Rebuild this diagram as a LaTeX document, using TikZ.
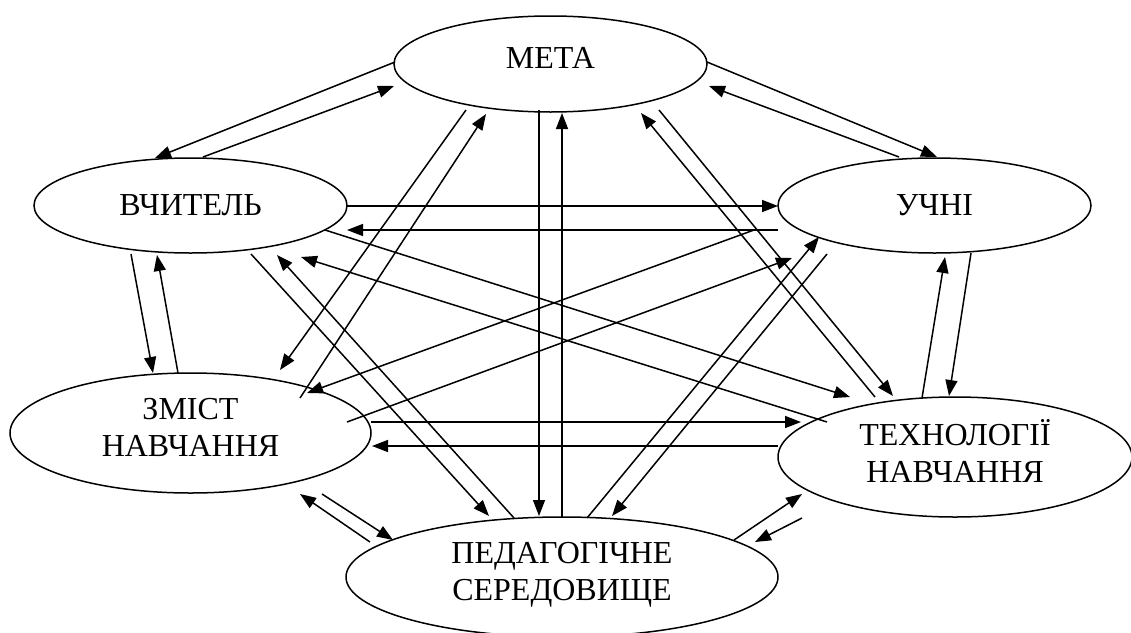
\documentclass[tikz,border=0pt]{standalone}
\usepackage{fontspec}
\setmainfont{Liberation Serif}
\usetikzlibrary{shapes.geometric,arrows.meta,calc}
\begin{document}
\begin{tikzpicture}[x=1pt,y=-1pt,
  oval/.style={draw,ellipse,line width=1.5pt,inner sep=0pt,align=center,
    font=\fontsize{32}{37}\selectfont},
  conn/.style={line width=1.5pt,-{Triangle[length=16pt,width=12pt]}}]
\useasboundingbox (0,0) rectangle (1131,632);
\node[oval,minimum width=313pt,minimum height=96pt,text height=21pt,text depth=13pt] (meta) at (550.5,64) {МЕТА};
\node[oval,minimum width=313pt,minimum height=95pt] (vch) at (190.5,205.5) {ВЧИТЕЛЬ};
\node[oval,minimum width=313pt,minimum height=95pt] (uchni) at (934.5,205.5) {УЧНІ};
\node[oval,minimum width=361pt,minimum height=120pt,text depth=12pt] (zmist) at (190.5,433) {ЗМІСТ\\НАВЧАННЯ};
\node[oval,minimum width=354pt,minimum height=120pt,text depth=12pt] (tech) at (955,457) {ТЕХНОЛОГІЇ\\НАВЧАННЯ};
\node[oval,minimum width=432pt,minimum height=120pt,text depth=12pt] (ped) at (562,577) {ПЕДАГОГІЧНЕ\\СЕРЕДОВИЩЕ};
% МЕТА - ВЧИТЕЛЬ
\draw[conn] ($(meta)+(-155.5,-2)$) -- ($(vch)+(-35.5,-47.5)$);
\draw[conn] ($(vch)+(12.5,-48.5)$) -- ($(meta)+(-156.5,22)$);
% МЕТА - УЧНІ
\draw[conn] ($(meta)+(156.5,-2)$) -- ($(uchni)+(2.5,-48.5)$);
\draw[conn] ($(uchni)+(-35.5,-48.5)$) -- ($(meta)+(158.5,22)$);
% МЕТА - ЗМІСТ
\draw[conn] ($(meta)+(-84.5,46)$) -- ($(zmist)+(89.5,-63)$);
\draw[conn] ($(zmist)+(109.5,-35)$) -- ($(meta)+(-64.5,50)$);
% МЕТА - ПЕД
\draw[conn] ($(meta)+(-11.5,46)$) -- ($(ped)+(-23,-61)$);
\draw[conn] ($(ped)+(0,-60)$) -- ($(meta)+(11.5,49)$);
% МЕТА - ТЕХН
\draw[conn] ($(meta)+(108.5,46)$) -- ($(tech)+(-62,-61)$);
\draw[conn] ($(tech)+(-80,-60)$) -- ($(meta)+(90.5,49)$);
% ВЧИТЕЛЬ - УЧНІ
\draw[conn] ($(vch)+(156.5,0.5)$) -- ($(uchni)+(-156.5,0.5)$);
\draw[conn] ($(uchni)+(-156.5,24.5)$) -- ($(vch)+(156.5,24.5)$);
% ВЧИТЕЛЬ - ЗМІСТ
\draw[conn] ($(vch)+(-59.5,48.5)$) -- ($(zmist)+(-37.5,-60)$);
\draw[conn] ($(zmist)+(-12.5,-60)$) -- ($(vch)+(-33.5,49.5)$);
% ВЧИТЕЛЬ - ТЕХН
\draw[conn] ($(vch)+(134.5,24.5)$) -- ($(tech)+(-105,-60)$);
\draw[conn] ($(tech)+(-128,-35)$) -- ($(vch)+(110.5,51.5)$);
% ВЧИТЕЛЬ - ПЕД
\draw[conn] ($(vch)+(60.5,48.5)$) -- ($(ped)+(-73,-61)$);
\draw[conn] ($(ped)+(-48,-59)$) -- ($(vch)+(86.5,49.5)$);
% УЧНІ - ЗМІСТ
\draw[conn] ($(uchni)+(-180.5,24.5)$) -- ($(zmist)+(116.5,-40)$);
\draw[conn] ($(zmist)+(156.5,-11)$) -- ($(uchni)+(-142.5,52.5)$);
% УЧНІ - ТЕХН
\draw[conn] ($(uchni)+(36.5,47.5)$) -- ($(tech)+(-6,-61)$);
\draw[conn] ($(tech)+(-33,-59)$) -- ($(uchni)+(10.5,51.5)$);
% УЧНІ - ПЕД
\draw[conn] ($(uchni)+(-107.5,48.5)$) -- ($(ped)+(50,-61)$);
\draw[conn] ($(ped)+(25,-59)$) -- ($(uchni)+(-115.5,31.5)$);
% ЗМІСТ - ТЕХН
\draw[conn] ($(zmist)+(180.5,-11)$) -- ($(tech)+(-154,-35)$);
\draw[conn] ($(tech)+(-177,-11)$) -- ($(zmist)+(181.5,13)$);
% ЗМІСТ - ПЕД
\draw[conn] ($(zmist)+(131.5,61)$) -- ($(ped)+(-169,-37)$);
\draw[conn] ($(ped)+(-192,-35)$) -- ($(zmist)+(109.5,61)$);
% ПЕД - ТЕХН
\draw[conn] ($(ped)+(172,-37)$) -- ($(tech)+(-153,37)$);
\draw[conn] ($(tech)+(-153,61)$) -- ($(ped)+(193,-35)$);
\end{tikzpicture}
\end{document}
